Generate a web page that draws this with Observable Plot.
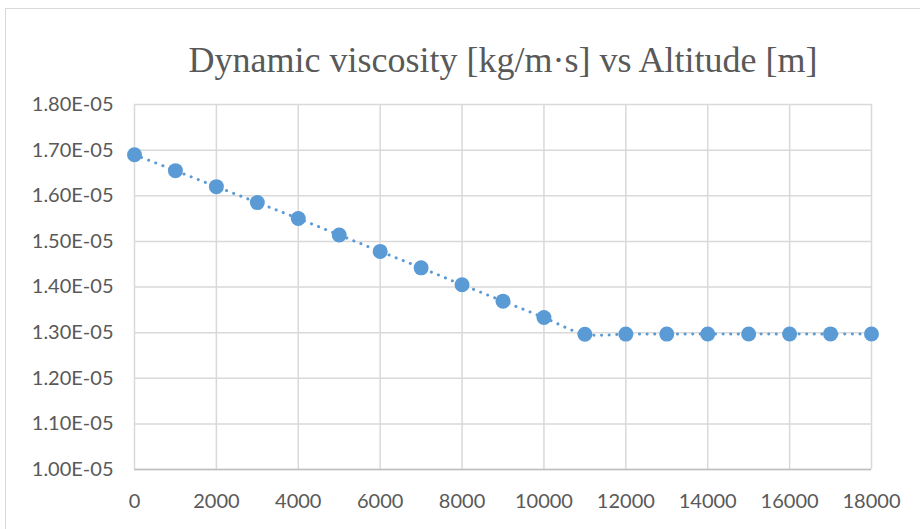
<!DOCTYPE html>
<html>
<head>
<meta charset="utf-8">
<script src="https://cdn.jsdelivr.net/npm/d3@7"></script>
<script src="https://cdn.jsdelivr.net/npm/@observablehq/plot@0.6"></script>
<style>
  html, body { margin: 0; padding: 0; background: #fff; }
  #chart { position: relative; width: 920px; height: 529px; overflow: hidden; background: #fff; }
  #border { position: absolute; left: 5px; top: 8px; width: 940px; height: 560px; border: 1.5px solid #d9d9d9; box-sizing: border-box; }
  #chart svg { position: absolute; left: 0; top: 0; }
</style>
</head>
<body>
<div id="chart"><div id="border"></div></div>
<script>
// Altitude [m]
const altitude = [0, 1000, 2000, 3000, 4000, 5000, 6000, 7000, 8000, 9000,
  10000, 11000, 12000, 13000, 14000, 15000, 16000, 17000, 18000];
// Dynamic viscosity [kg/m·s]
const viscosity = [1.690e-5, 1.655e-5, 1.620e-5, 1.585e-5, 1.550e-5, 1.514e-5, 1.478e-5,
  1.442e-5, 1.405e-5, 1.369e-5, 1.333e-5, 1.2965e-5, 1.2968e-5, 1.2968e-5, 1.2969e-5,
  1.2970e-5, 1.2971e-5, 1.2972e-5, 1.2970e-5];

const xTicks = [0, 2000, 4000, 6000, 8000, 10000, 12000, 14000, 16000, 18000];
const yTicks = [1.0e-5, 1.1e-5, 1.2e-5, 1.3e-5, 1.4e-5, 1.5e-5, 1.6e-5, 1.7e-5, 1.8e-5];
const title = "Dynamic viscosity [kg/m·s] vs Altitude [m]";

const data = altitude.map((a, i) => ({altitude: a, viscosity: viscosity[i]}));
const sci = d => (d * 1e5).toFixed(2) + "E-05";

const blue = "#5b9bd5";
const grid = "#d9d9d9";

const plot = Plot.plot({
  width: 920,
  height: 529,
  marginLeft: 134,
  marginRight: 49,
  marginTop: 104,
  marginBottom: 60,
  style: {fontFamily: "Lato, sans-serif", fontSize: "20px", color: "#595959", background: "transparent"},
  x: {domain: [0, 18000], label: null},
  y: {domain: [1.0e-5, 1.8e-5], label: null},
  marks: [
    Plot.gridX(xTicks, {stroke: grid, strokeOpacity: 1, strokeWidth: 1.5}),
    Plot.gridY(yTicks, {stroke: grid, strokeOpacity: 1, strokeWidth: 1.5}),
    Plot.ruleY([1.0e-5], {stroke: "#bfbfbf", strokeWidth: 1.5}),
    Plot.axisX({ticks: xTicks, tickSize: 0, tickPadding: 24, tickFormat: d => String(d), fill: "#595959"}),
    Plot.axisY({ticks: yTicks, tickSize: 0, tickPadding: 21, tickFormat: sci, fill: "#595959"}),
    Plot.line(data, {x: "altitude", y: "viscosity", curve: "catmull-rom", stroke: blue,
      strokeWidth: 3, strokeDasharray: "0.1 7.5", strokeLinecap: "round"}),
    Plot.dot(data, {x: "altitude", y: "viscosity", r: 7.5, fill: blue, stroke: null}),
    Plot.text([title], {frameAnchor: "top", dy: -58, fontFamily: "'Liberation Serif', serif",
      fontSize: 36, fill: "#595959", fontWeight: "normal"})
  ]
});
document.getElementById("chart").appendChild(plot);
</script>
</body>
</html>
